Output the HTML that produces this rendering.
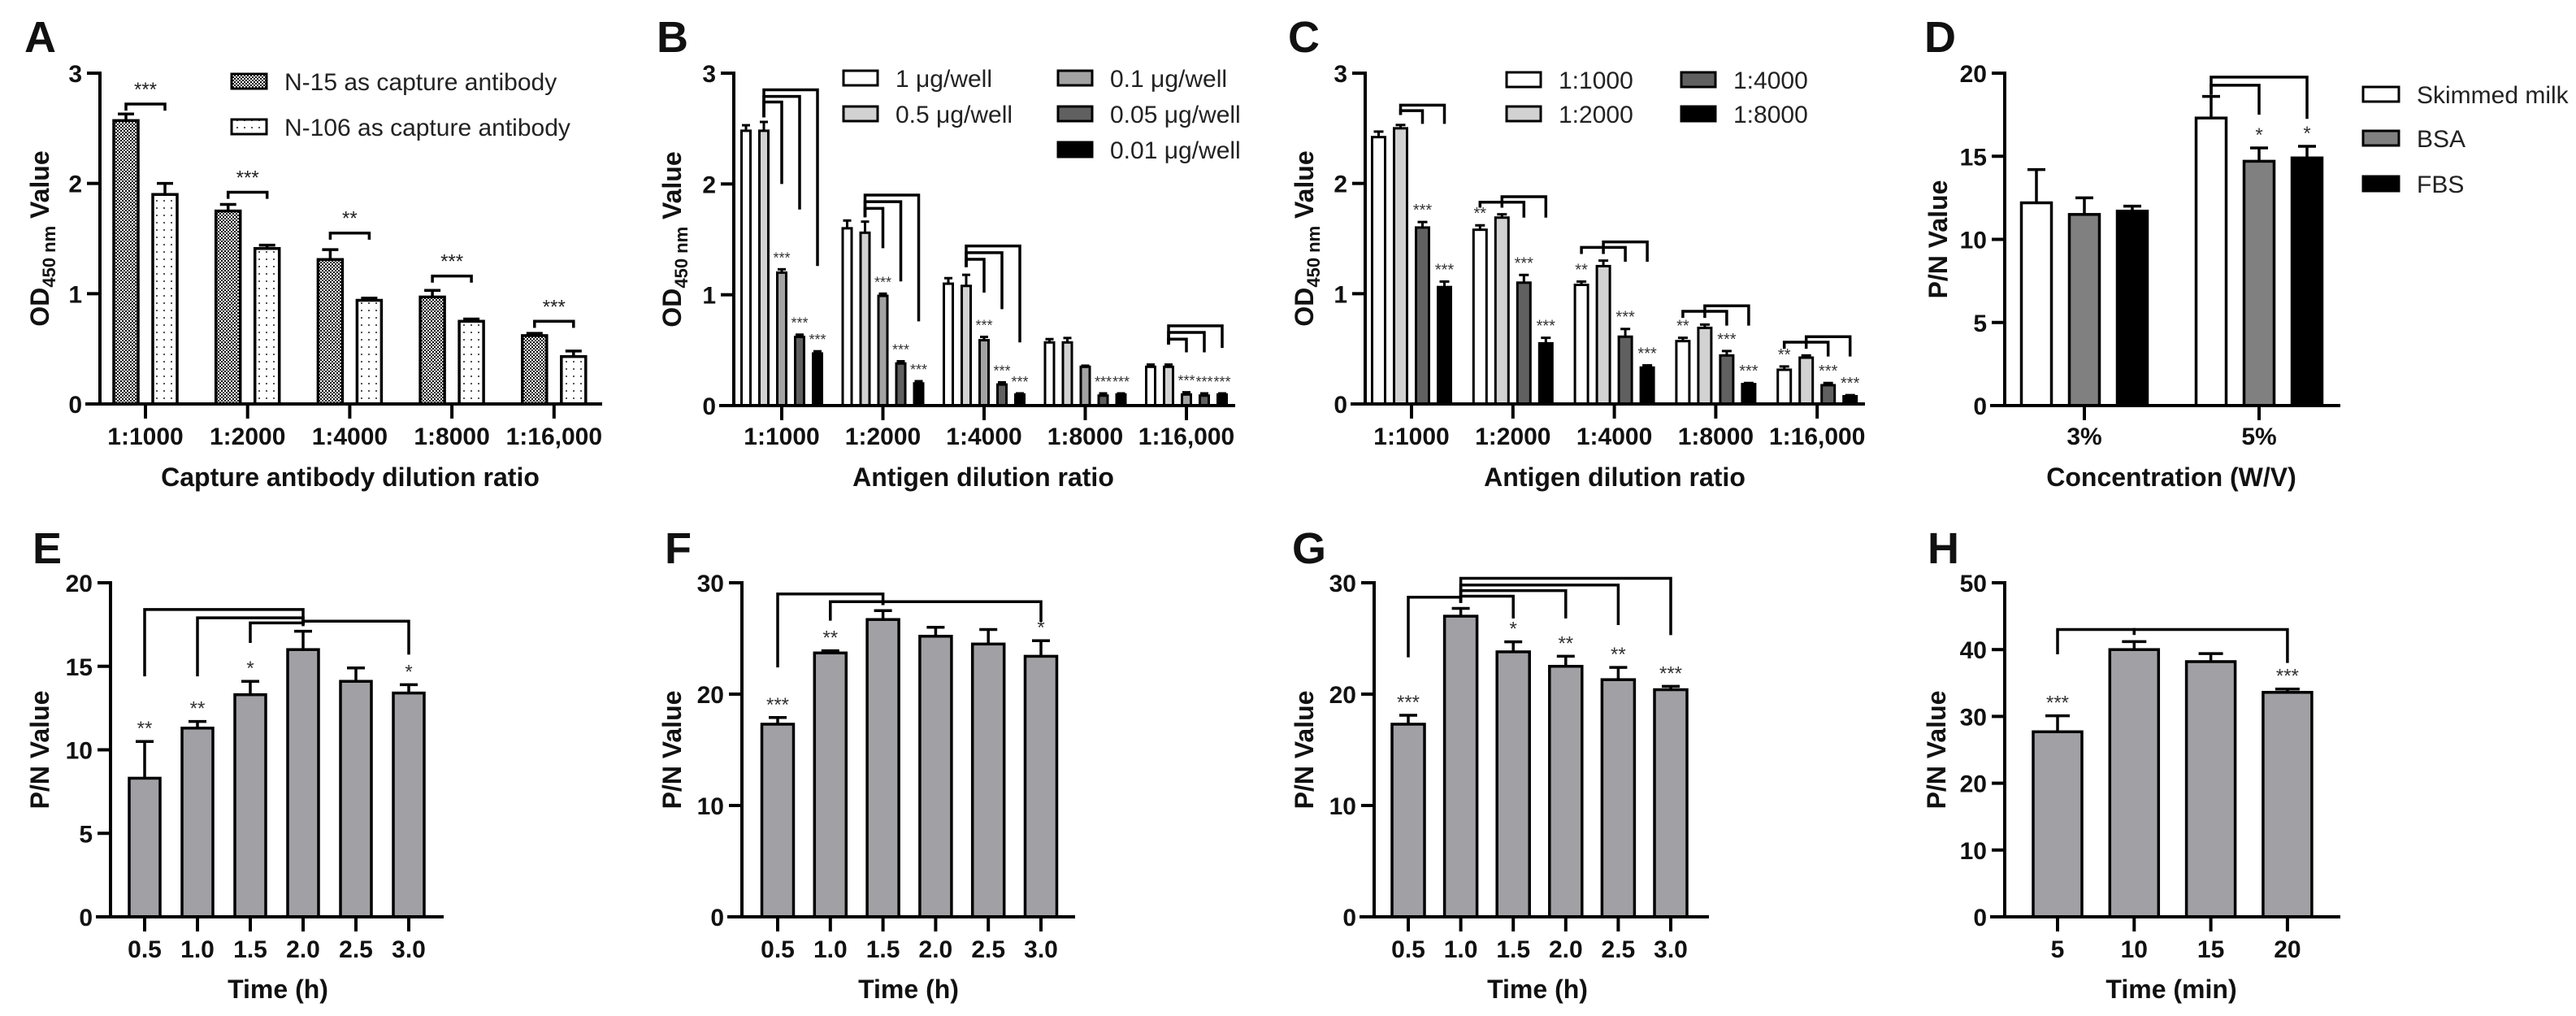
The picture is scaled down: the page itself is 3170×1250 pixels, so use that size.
<!DOCTYPE html>
<html><head><meta charset="utf-8">
<style>
html,body{margin:0;padding:0;background:#fff;}
svg{display:block;font-family:"Liberation Sans",Arial,sans-serif;}
</style></head>
<body>
<svg id="fig" xmlns="http://www.w3.org/2000/svg" width="3170" height="1250" viewBox="0 0 3170 1250">
<defs>
<pattern id="hatchDark" width="4" height="4" patternUnits="userSpaceOnUse"><rect width="4" height="4" fill="#fff"/><rect x="0" y="0" width="2" height="2" fill="#111"/><rect x="2" y="2" width="2" height="2" fill="#111"/></pattern>
<pattern id="dotLight" width="9" height="9" patternUnits="userSpaceOnUse"><rect width="9" height="9" fill="#fff"/><rect x="3" y="3" width="2" height="2" fill="#555"/></pattern>
</defs>
</svg>
<script>
// ---------- Panel A data ----------
const A_cats = ['1:1000','1:2000','1:4000','1:8000','1:16,000'];
const A_series = ['N-15 as capture antibody','N-106 as capture antibody'];
const A_n15 = [2.57,1.75,1.31,0.97,0.62];
const A_n15_err = [0.06,0.06,0.09,0.06,0.02];
const A_n106 = [1.90,1.41,0.94,0.75,0.43];
const A_n106_err = [0.10,0.03,0.02,0.02,0.05];
const A_yticks = [0,1,2,3];
const A_brackets = [[0,0,1,2.72,2.66,2.66],[1,0,1,1.92,1.86,1.86],[2,0,1,1.55,1.49,1.49],[3,0,1,1.16,1.10,1.10],[4,0,1,0.75,0.69,0.69]];
const A_bracketStars = ['***','***','**','***','***'];
// ---------- Panel B data ----------
const B_cats = ['1:1000','1:2000','1:4000','1:8000','1:16,000'];
const B_series = ['1 μg/well','0.5 μg/well','0.1 μg/well','0.05 μg/well','0.01 μg/well'];
const B_s1 = [2.48,1.60,1.10,0.57,0.35];
const B_s1_err = [0.05,0.07,0.05,0.03,0.02];
const B_s2 = [2.48,1.56,1.08,0.57,0.35];
const B_s2_err = [0.08,0.10,0.10,0.04,0.02];
const B_s3 = [1.20,0.99,0.59,0.35,0.10];
const B_s3_err = [0.03,0.02,0.03,0.01,0.02];
const B_s4 = [0.62,0.38,0.19,0.09,0.09];
const B_s4_err = [0.02,0.02,0.02,0.02,0.02];
const B_s5 = [0.47,0.20,0.10,0.10,0.10];
const B_s5_err = [0.02,0.02,0.01,0.01,0.01];
const B_stars = [['','','***','***','***'],['','','***','***','***'],['','','***','***','***'],['','','','***','***'],['','','***','***','***']];
const B_yticks = [0,1,2,3];
const B_brackets = [[0,1,4,2.85,2.60,1.26],[0,1,3,2.79,2.60,1.77],[0,1,2,2.74,2.60,2.00],
  [1,1,4,1.90,1.70,0.76],[1,1,3,1.84,1.70,1.12],[1,1,2,1.78,1.70,1.42],
  [2,1,4,1.44,1.25,0.57],[2,1,3,1.38,1.25,0.87],[2,1,2,1.32,1.25,1.02],
  [4,1,4,0.72,0.55,0.52],[4,1,3,0.66,0.55,0.48],[4,1,2,0.60,0.55,0.48]];
// ---------- Panel C data ----------
const C_cats = ['1:1000','1:2000','1:4000','1:8000','1:16,000'];
const C_series = ['1:1000','1:2000','1:4000','1:8000'];
const C_s1 = [2.42,1.58,1.08,0.57,0.31];
const C_s1_err = [0.05,0.04,0.03,0.03,0.03];
const C_s2 = [2.50,1.69,1.25,0.69,0.42];
const C_s2_err = [0.03,0.03,0.05,0.03,0.02];
const C_s3 = [1.60,1.10,0.61,0.44,0.17];
const C_s3_err = [0.05,0.07,0.07,0.04,0.02];
const C_s4 = [1.06,0.55,0.33,0.18,0.07];
const C_s4_err = [0.05,0.05,0.02,0.01,0.01];
const C_stars = [['','','***','***'],['**','','***','***'],['**','','***','***'],['**','','***','***'],['**','','***','***']];
const C_yticks = [0,1,2,3];
const C_brackets = [[0,1,3,2.71,2.62,2.54],[0,1,2,2.66,2.62,2.54],
  [1,0,1,1.83,1.78,1.78],[1,1,3,1.88,1.83,1.69],[1,1,2,1.83,1.83,1.69],
  [2,0,1,1.42,1.36,1.36],[2,1,3,1.47,1.42,1.29],[2,1,2,1.42,1.42,1.29],
  [3,0,1,0.84,0.78,0.78],[3,1,3,0.89,0.84,0.71],[3,1,2,0.84,0.84,0.71],
  [4,0,1,0.56,0.50,0.50],[4,1,3,0.61,0.56,0.43],[4,1,2,0.56,0.56,0.43]];
// ---------- Panel D data ----------
const D_cats = ['3%','5%'];
const D_series = ['Skimmed milk','BSA','FBS'];
const D_milk = [12.2,17.3];
const D_milk_err = [2.0,1.3];
const D_bsa = [11.5,14.7];
const D_bsa_err = [1.0,0.8];
const D_fbs = [11.7,14.9];
const D_fbs_err = [0.3,0.7];
const D_stars = [['','',''],['','*','*']];
const D_yticks = [0,5,10,15,20];
const D_brackets = [[1,0,1,19.27,18.7,17.5],[1,0,2,19.76,18.7,17.25]];
// ---------- Panel E data ----------
const E_cats = ['0.5','1.0','1.5','2.0','2.5','3.0'];
const E_vals = [8.3,11.3,13.3,16.0,14.1,13.4];
const E_err = [2.2,0.4,0.8,1.1,0.8,0.5];
const E_stars = ['**','**','*','','','*'];
const E_yticks = [0,5,10,15,20];
const E_brackets = [[3,0,18.4,17.5,14.4],[3,1,17.9,17.5,14.4],[3,2,17.6,17.5,16.4],[3,5,17.7,17.4,15.7]];
// ---------- Panel F data ----------
const F_cats = ['0.5','1.0','1.5','2.0','2.5','3.0'];
const F_vals = [17.3,23.7,26.7,25.2,24.5,23.4];
const F_err = [0.6,0.2,0.8,0.8,1.3,1.4];
const F_stars = ['***','**','','','','*'];
const F_yticks = [0,10,20,30];
const F_brackets = [[2,0,29.0,28.0,22.4],[2,1,28.3,28.0,26.6],[2,5,28.3,28.0,26.5]];
// ---------- Panel G data ----------
const G_cats = ['0.5','1.0','1.5','2.0','2.5','3.0'];
const G_vals = [17.3,27.0,23.8,22.5,21.3,20.4];
const G_err = [0.8,0.7,0.9,0.9,1.1,0.3];
const G_stars = ['***','','*','**','**','***'];
const G_yticks = [0,10,20,30];
const G_brackets = [[1,0,28.7,28.2,23.3],[1,2,28.8,28.2,26.8],[1,3,29.3,28.2,26.8],[1,4,29.8,28.2,26.2],[1,5,30.4,28.2,25.3]];
// ---------- Panel H data ----------
const H_cats = ['5','10','15','20'];
const H_vals = [27.7,40.0,38.2,33.6];
const H_err = [2.4,1.2,1.2,0.5];
const H_stars = ['***','','','***'];
const H_yticks = [0,10,20,30,40,50];
const H_brackets = [[1,0,43.0,42.2,39.3],[1,3,43.0,42.2,38.0]];

const svg = document.getElementById('fig');
const NS = 'http://www.w3.org/2000/svg';
function mk(parent, tag, attrs, name){
  const e = document.createElementNS(NS, tag);
  for (const k in attrs) e.setAttribute(k, attrs[k]);
  
  
  parent.appendChild(e);
  return e;
}
function txt(parent, x, y, s, size, weight, anchor, name, extra){
  const a = {x:x, y:y, 'font-size':size, 'font-weight':weight, 'text-anchor':anchor, fill:'#111'};
  if (extra) for (const k in extra) a[k] = extra[k];
  const t = mk(parent, 'text', a, name);
  t.textContent = s;
  return t;
}

function panel(cfg){
  const g = mk(svg, 'g', {}, 'panel-' + cfg.id.toLowerCase());
  const ymax = cfg.yticks[cfg.yticks.length-1];
  const Y = v => cfg.y0 - (v/ymax)*(cfg.y0 - cfg.yTop);
  const T = i => cfg.tick0 + i*cfg.step;
  const nS = cfg.series.length;
  const BX = (gi, s) => T(gi) + (s - (nS-1)/2)*cfg.spacing;
  txt(g, cfg.letterX, cfg.letterY, cfg.id, 54, 'bold', 'start', 'panel-label-' + cfg.id.toLowerCase());
  for (let s = 0; s < nS; s++){
    const vals = cfg.series[s], errs = cfg.errs[s];
    for (let i = 0; i < vals.length; i++){
      const cx = BX(i, s), top = Y(vals[i]);
      mk(g, 'rect', {x:cx - cfg.bw/2, y:top, width:cfg.bw, height:cfg.y0 - top, fill:cfg.fills[s], stroke:'#000', 'stroke-width':cfg.sw}, 'bar-' + cfg.id.toLowerCase() + '-' + s + '-' + i);
      const et = Y(vals[i] + errs[i]);
      mk(g, 'line', {x1:cx, x2:cx, y1:top, y2:et, stroke:'#000', 'stroke-width':cfg.sw}, 'error-bar');
      mk(g, 'line', {x1:cx - cfg.cap/2, x2:cx + cfg.cap/2, y1:et, y2:et, stroke:'#000', 'stroke-width':cfg.sw}, 'error-cap');
      const st = cfg.stars ? cfg.stars(i, s) : '';
      if (st) txt(g, cx + (cfg.starDx||0), et - 8, st, cfg.starSize, 'normal', 'middle', 'significance-mark', {fill:'#333'});
    }
  }
  (cfg.brackets||[]).forEach((b, k) => {
    let xa, xb, top, ba, bb;
    if (b.length === 6){ xa = BX(b[0], b[1]); xb = BX(b[0], b[2]); top = b[3]; ba = b[4]; bb = b[5]; }
    else { xa = T(b[0]); xb = T(b[1]); top = b[2]; ba = b[3]; bb = b[4]; }
    const yt = Y(top);
    mk(g, 'polyline', {points: xa + ',' + Y(ba) + ' ' + xa + ',' + yt + ' ' + xb + ',' + yt + ' ' + xb + ',' + Y(bb), fill:'none', stroke:'#000', 'stroke-width':3.5}, 'significance-bracket');
    if (cfg.bracketStars) txt(g, (xa+xb)/2, yt - 10, cfg.bracketStars[k], 24, 'normal', 'middle', 'bracket-significance', {fill:'#222'});
  });
  mk(g, 'line', {x1:cfg.xAxis0, x2:cfg.xAxis0, y1:cfg.yTop - 2, y2:cfg.y0 + 2, stroke:'#000', 'stroke-width':4}, 'y-axis');
  mk(g, 'line', {x1:cfg.xAxis0 - 18, x2:cfg.xAxis1, y1:cfg.y0, y2:cfg.y0, stroke:'#000', 'stroke-width':4}, 'x-axis');
  cfg.yticks.forEach(v => {
    const y = Y(v);
    mk(g, 'line', {x1:cfg.xAxis0 - 16, x2:cfg.xAxis0, y1:y, y2:y, stroke:'#000', 'stroke-width':4}, 'y-tick');
    txt(g, cfg.xAxis0 - 22, y + 11, String(v), 30, 'bold', 'end', 'y-tick-label');
  });
  cfg.cats.forEach((c, i) => {
    mk(g, 'line', {x1:T(i), x2:T(i), y1:cfg.y0, y2:cfg.y0 + 18, stroke:'#000', 'stroke-width':4}, 'x-tick');
    txt(g, T(i), cfg.tickLabelY, c, 30, 'bold', 'middle', 'x-tick-label');
  });
  txt(g, cfg.xTitleX, cfg.xTitleY, cfg.xTitle, 32, 'bold', 'middle', 'x-axis-title');
  const yt = mk(g, 'text', {x:0, y:0, 'font-size':32, 'font-weight':'bold', 'text-anchor':'middle', fill:'#111', transform:'translate(' + cfg.yTitleX + ',' + ((cfg.y0 + cfg.yTop)/2) + ') rotate(-90)'}, 'y-axis-title');
  if (cfg.od){
    const t1 = document.createElementNS(NS,'tspan'); t1.textContent = 'OD';
     
    const t2 = document.createElementNS(NS,'tspan'); t2.textContent = '450 nm'; t2.setAttribute('font-size','22'); t2.setAttribute('dy','8');
     
    const t3 = document.createElementNS(NS,'tspan'); t3.textContent = ' Value'; t3.setAttribute('dy','-8');
     
    yt.appendChild(t1); yt.appendChild(t2); yt.appendChild(t3);
  } else yt.textContent = 'P/N Value';
  (cfg.legend||[]).forEach((L, k) => {
    const lg = mk(g, 'g', {}, 'legend-entry');
    mk(lg, 'rect', {x:L[0], y:L[1] - 9, width:cfg.legW, height:18, fill:cfg.fills[k], stroke:'#000', 'stroke-width':3}, 'legend-swatch');
    txt(lg, L[0] + cfg.legW + 22, L[1] + 11, cfg.seriesNames[k], 30, 'normal', 'start', 'legend-label', {fill:'#222'});
  });
}

panel({id:'A', series:[A_n15, A_n106], errs:[A_n15_err, A_n106_err], seriesNames:A_series, cats:A_cats, yticks:A_yticks,
  fills:['url(#hatchDark)','url(#dotLight)'], y0:497, yTop:90, xAxis0:123, xAxis1:741, tick0:179, step:125.7, spacing:48, bw:30, cap:20, sw:3.5,
  brackets:A_brackets, bracketStars:A_bracketStars, letterX:30, letterY:64, tickLabelY:547, xTitle:'Capture antibody dilution ratio', xTitleX:431, xTitleY:598, yTitleX:60, od:true,
  legW:43, legend:[[285,100],[285,156]]});
panel({id:'B', series:[B_s1,B_s2,B_s3,B_s4,B_s5], errs:[B_s1_err,B_s2_err,B_s3_err,B_s4_err,B_s5_err], seriesNames:B_series, cats:B_cats, yticks:B_yticks,
  fills:['#fff','#d2d2d2','#a3a3a3','#606060','#000'], y0:499, yTop:90, xAxis0:903, xAxis1:1520, tick0:962, step:124.5, spacing:22, bw:11, cap:10, sw:3,
  stars:(i,s)=>B_stars[i][s], starSize:18, starDx:0, brackets:B_brackets, letterX:808, letterY:64, tickLabelY:547, xTitle:'Antigen dilution ratio', xTitleX:1210, xTitleY:598, yTitleX:838, od:true,
  legW:42, legend:[[1038,96],[1038,140],[1302,96],[1302,140],[1302,184]]});
panel({id:'C', series:[C_s1,C_s2,C_s3,C_s4], errs:[C_s1_err,C_s2_err,C_s3_err,C_s4_err], seriesNames:C_series, cats:C_cats, yticks:C_yticks,
  fills:['#fff','#d2d2d2','#606060','#000'], y0:497, yTop:90, xAxis0:1680, xAxis1:2295, tick0:1737, step:124.8, spacing:27, bw:16, cap:12, sw:3,
  stars:(i,s)=>C_stars[i][s], starSize:20, brackets:C_brackets, letterX:1585, letterY:64, tickLabelY:547, xTitle:'Antigen dilution ratio', xTitleX:1987, xTitleY:598, yTitleX:1616, od:true,
  legW:42, legend:[[1854,98],[1854,140],[2069,98],[2069,140]]});
panel({id:'D', series:[D_milk,D_bsa,D_fbs], errs:[D_milk_err,D_bsa_err,D_fbs_err], seriesNames:D_series, cats:D_cats, yticks:D_yticks,
  fills:['#fff','#808080','#000'], y0:499, yTop:90, xAxis0:2467, xAxis1:2880, tick0:2565, step:215, spacing:59, bw:37, cap:22, sw:3.5,
  stars:(i,s)=>D_stars[i][s], starSize:24, brackets:D_brackets, letterX:2368, letterY:64, tickLabelY:547, xTitle:'Concentration (W/V)', xTitleX:2672, xTitleY:598, yTitleX:2396,
  legW:44, legend:[[2908,116],[2908,170],[2908,226]]});

const GRAY = '#a0a0a5';
panel({id:'E', series:[E_vals], errs:[E_err], seriesNames:['E'], cats:E_cats, yticks:E_yticks, fills:[GRAY],
  y0:1128, yTop:717, xAxis0:136, xAxis1:546, tick0:178, step:65, spacing:0, bw:38, cap:22, sw:3.5,
  stars:(i)=>E_stars[i], starSize:24, brackets:E_brackets, letterX:40, letterY:693, tickLabelY:1178, xTitle:'Time (h)', xTitleX:342, xTitleY:1228, yTitleX:60});
panel({id:'F', series:[F_vals], errs:[F_err], seriesNames:['F'], cats:F_cats, yticks:F_yticks, fills:[GRAY],
  y0:1128, yTop:717, xAxis0:913, xAxis1:1323, tick0:957, step:64.8, spacing:0, bw:39, cap:22, sw:3.5,
  stars:(i)=>F_stars[i], starSize:24, brackets:F_brackets, letterX:818, letterY:693, tickLabelY:1178, xTitle:'Time (h)', xTitleX:1118, xTitleY:1228, yTitleX:838});
panel({id:'G', series:[G_vals], errs:[G_err], seriesNames:['G'], cats:G_cats, yticks:G_yticks, fills:[GRAY],
  y0:1128, yTop:717, xAxis0:1691, xAxis1:2103, tick0:1733, step:64.6, spacing:0, bw:40, cap:22, sw:3.5,
  stars:(i)=>G_stars[i], starSize:24, brackets:G_brackets, letterX:1590, letterY:693, tickLabelY:1178, xTitle:'Time (h)', xTitleX:1892, xTitleY:1228, yTitleX:1616});
panel({id:'H', series:[H_vals], errs:[H_err], seriesNames:['H'], cats:H_cats, yticks:H_yticks, fills:[GRAY],
  y0:1128, yTop:717, xAxis0:2467, xAxis1:2880, tick0:2532, step:94.3, spacing:0, bw:60, cap:30, sw:3.5,
  stars:(i)=>H_stars[i], starSize:24, brackets:H_brackets, letterX:2372, letterY:693, tickLabelY:1178, xTitle:'Time (min)', xTitleX:2672, xTitleY:1228, yTitleX:2394});
</script>
</body></html>
